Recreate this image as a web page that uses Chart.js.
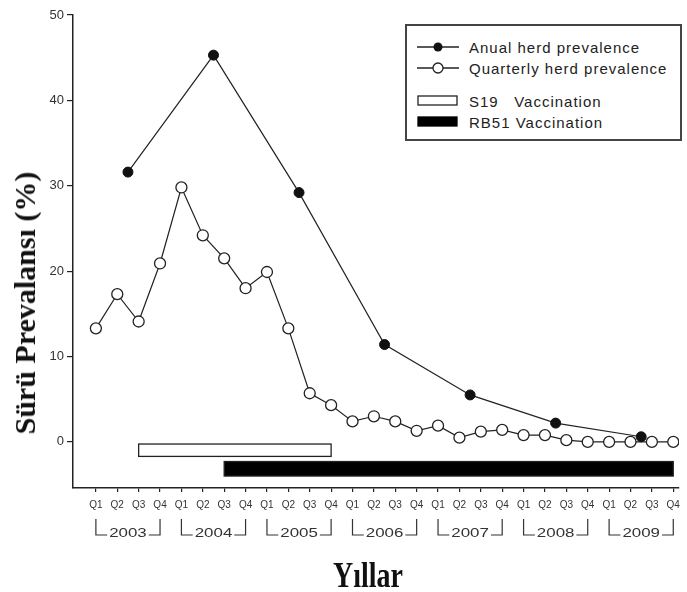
<!DOCTYPE html>
<html>
<head>
<meta charset="utf-8">
<script src="https://cdn.jsdelivr.net/npm/chart.js@4.4.1/dist/chart.umd.min.js"></script>
<style>
  html, body { margin: 0; padding: 0; background: #fff; }
  #wrap { position: relative; width: 687px; height: 592px; }
  #ytitle {
    position: absolute; left: 25px; top: 303px;
    transform: translate(-50%, -50%) rotate(-90deg);
    white-space: nowrap;
    font: bold 30px "Liberation Serif", serif;
    color: #111;
  }
  #xtitle {
    position: absolute; left: 368px; top: 556px;
    transform: translateX(-50%) scaleX(0.8);
    white-space: nowrap; line-height: 1;
    font: bold 35px "Liberation Serif", serif;
    color: #111;
  }
  #legend {
    position: absolute; left: 405px; top: 24px; width: 277px; height: 117px;
    box-sizing: border-box; border: 2px solid #444; background: #fff;
    font: 15px "Liberation Sans", Arial, sans-serif; color: #222; letter-spacing: 1px;
  }
  #legend .row { position: absolute; left: 10px; height: 18px; display: flex; align-items: center; }
  #legend svg { width: 42px; height: 14px; margin-right: 10px; }
</style>
</head>
<body>
<div id="wrap">
  <canvas id="chart" width="687" height="592"></canvas>
  <div id="ytitle">Sürü Prevalansı (%)</div>
  <div id="xtitle">Yıllar</div>
  <div id="legend">
    <div class="row" style="top:12px">
      <svg viewBox="0 0 42 14"><line x1="0" y1="7" x2="42" y2="7" stroke="#222" stroke-width="1.3"/><circle cx="21" cy="7" r="4.5" fill="#111"/></svg>
      <span>Anual herd prevalence</span>
    </div>
    <div class="row" style="top:33px">
      <svg viewBox="0 0 42 14"><line x1="0" y1="7" x2="42" y2="7" stroke="#222" stroke-width="1.3"/><circle cx="21" cy="7" r="5" fill="#fff" stroke="#222" stroke-width="1.3"/></svg>
      <span>Quarterly herd prevalence</span>
    </div>
    <div class="row" style="top:66px">
      <svg viewBox="0 0 42 14"><rect x="1" y="2" width="39" height="9" fill="#fff" stroke="#222" stroke-width="1.3"/></svg>
      <span>S19&nbsp;&nbsp;&nbsp;Vaccination</span>
    </div>
    <div class="row" style="top:87px">
      <svg viewBox="0 0 42 14"><rect x="1" y="2" width="39" height="9" fill="#000" stroke="#000" stroke-width="1.3"/></svg>
      <span>RB51 Vaccination</span>
    </div>
  </div>
</div>
<script>
const years = ["2003", "2004", "2005", "2006", "2007", "2008", "2009"];
const quarters = ["Q1", "Q2", "Q3", "Q4"];

// quarterly herd prevalence (%), Q1 2003 .. Q4 2009
const quarterlyPrev = [
  13.3, 17.3, 14.1, 20.9,
  29.8, 24.2, 21.5, 18.0,
  19.9, 13.3, 5.7, 4.3,
  2.4, 3.0, 2.4, 1.3,
  1.9, 0.5, 1.2, 1.4,
  0.8, 0.8, 0.2, 0.0,
  0.0, 0.0, 0.0, 0.0,
];

// annual herd prevalence (%), one value per year (plotted mid-year)
const annualPrev = [31.6, 45.3, 29.2, 11.4, 5.5, 2.2, 0.6];

// vaccination periods as [first quarter, last quarter] (quarter index from Q1 2003)
const s19Period = [2, 11];   // Q3 2003 - Q4 2005
const rb51Period = [6, 27];  // Q3 2004 - Q4 2009

const yTicks = [0, 10, 20, 30, 40, 50];

const quarterLabels = [];
years.forEach(() => quarters.forEach((q) => quarterLabels.push(q)));

const quarterlyPoints = quarterlyPrev.map((v, i) => ({ x: i, y: v }));
const annualPoints = annualPrev.map((v, i) => ({ x: i * 4 + 1.5, y: v }));

const INK = "#222";

// vaccination bars, drawn through the chart scales
const vaccinationBars = {
  id: "vaccinationBars",
  beforeDatasetsDraw(chart) {
    const { ctx } = chart;
    const xs = chart.scales.x;
    const ys = chart.scales.y;
    const bars = [
      { period: s19Period, y0: -0.25, y1: -1.7, fill: "#fff" },
      { period: rb51Period, y0: -2.3, y1: -4.0, fill: "#000" },
    ];
    ctx.save();
    bars.forEach((b) => {
      const x0 = xs.getPixelForValue(b.period[0]);
      const x1 = xs.getPixelForValue(b.period[1]);
      const top = ys.getPixelForValue(b.y0);
      const bot = ys.getPixelForValue(b.y1);
      ctx.fillStyle = b.fill;
      ctx.fillRect(x0, top, x1 - x0, bot - top);
      ctx.strokeStyle = INK;
      ctx.lineWidth = 1.3;
      ctx.strokeRect(x0, top, x1 - x0, bot - top);
    });
    ctx.restore();
  },
};

// year brackets under the quarter labels
const yearBrackets = {
  id: "yearBrackets",
  afterDraw(chart) {
    const { ctx } = chart;
    const xs = chart.scales.x;
    const base = xs.top;
    const yTop = base + 31;
    const yBot = base + 47;
    const stretch = 1.3;
    ctx.save();
    ctx.strokeStyle = "#333";
    ctx.lineWidth = 1.2;
    ctx.fillStyle = "#333";
    ctx.font = '13px "Liberation Sans", Arial, sans-serif';
    ctx.textAlign = "center";
    ctx.textBaseline = "alphabetic";
    years.forEach((yr, i) => {
      const x0 = xs.getPixelForValue(i * 4);
      const x1 = xs.getPixelForValue(i * 4 + 3);
      const mid = (x0 + x1) / 2;
      const w = ctx.measureText(yr).width * stretch;
      ctx.save();
      ctx.translate(mid, yBot + 1.5);
      ctx.scale(stretch, 1);
      ctx.fillText(yr, 0, 0);
      ctx.restore();
      ctx.beginPath();
      ctx.moveTo(x0, yTop);
      ctx.lineTo(x0, yBot);
      ctx.lineTo(mid - w / 2 - 2, yBot);
      ctx.moveTo(mid + w / 2 + 2, yBot);
      ctx.lineTo(x1, yBot);
      ctx.lineTo(x1, yTop);
      ctx.stroke();
    });
    ctx.restore();
  },
};

new Chart(document.getElementById("chart"), {
  type: "line",
  data: {
    datasets: [
      {
        label: "Anual herd prevalence",
        data: annualPoints,
        borderColor: INK,
        borderWidth: 1.2,
        pointRadius: 5,
        pointBackgroundColor: "#111",
        pointBorderColor: "#111",
        pointBorderWidth: 1,
        tension: 0,
      },
      {
        label: "Quarterly herd prevalence",
        data: quarterlyPoints,
        borderColor: INK,
        borderWidth: 1.2,
        pointRadius: 5.5,
        pointBackgroundColor: "#fff",
        pointBorderColor: INK,
        pointBorderWidth: 1.3,
        tension: 0,
      },
    ],
  },
  options: {
    responsive: false,
    animation: false,
    layout: { padding: { top: 15, right: 0, left: 0, bottom: 0 } },
    plugins: {
      legend: { display: false },
      tooltip: { enabled: false },
    },
    scales: {
      x: {
        type: "linear",
        min: -1.07,
        max: 27.27,
        afterBuildTicks: (scale) => {
          scale.ticks = quarterLabels.map((_, i) => ({ value: i }));
        },
        afterFit: function (scale) {
          scale.height = 104;
        },
        ticks: {
          autoSkip: false,
          maxRotation: 0,
          padding: 7,
          color: "#333",
          font: { family: "Liberation Sans", size: 10 },
          callback: (v) => quarterLabels[v],
        },
        grid: { drawOnChartArea: false, tickLength: 4, color: INK, lineWidth: 1.2 },
        border: { color: INK, width: 1.5 },
      },
      y: {
        min: -5.4,
        max: 50,
        afterBuildTicks: (scale) => {
          scale.ticks = yTicks.map((v) => ({ value: v }));
        },
        afterFit: function (scale) {
          scale.width = 73;
        },
        ticks: {
          padding: 3,
          color: "#333",
          font: { family: "Liberation Sans", size: 13 },
        },
        grid: { drawOnChartArea: false, tickLength: 6, color: INK, lineWidth: 1.2 },
        border: { color: INK, width: 1.5 },
      },
    },
  },
  plugins: [vaccinationBars, yearBrackets],
});
</script>
</body>
</html>
